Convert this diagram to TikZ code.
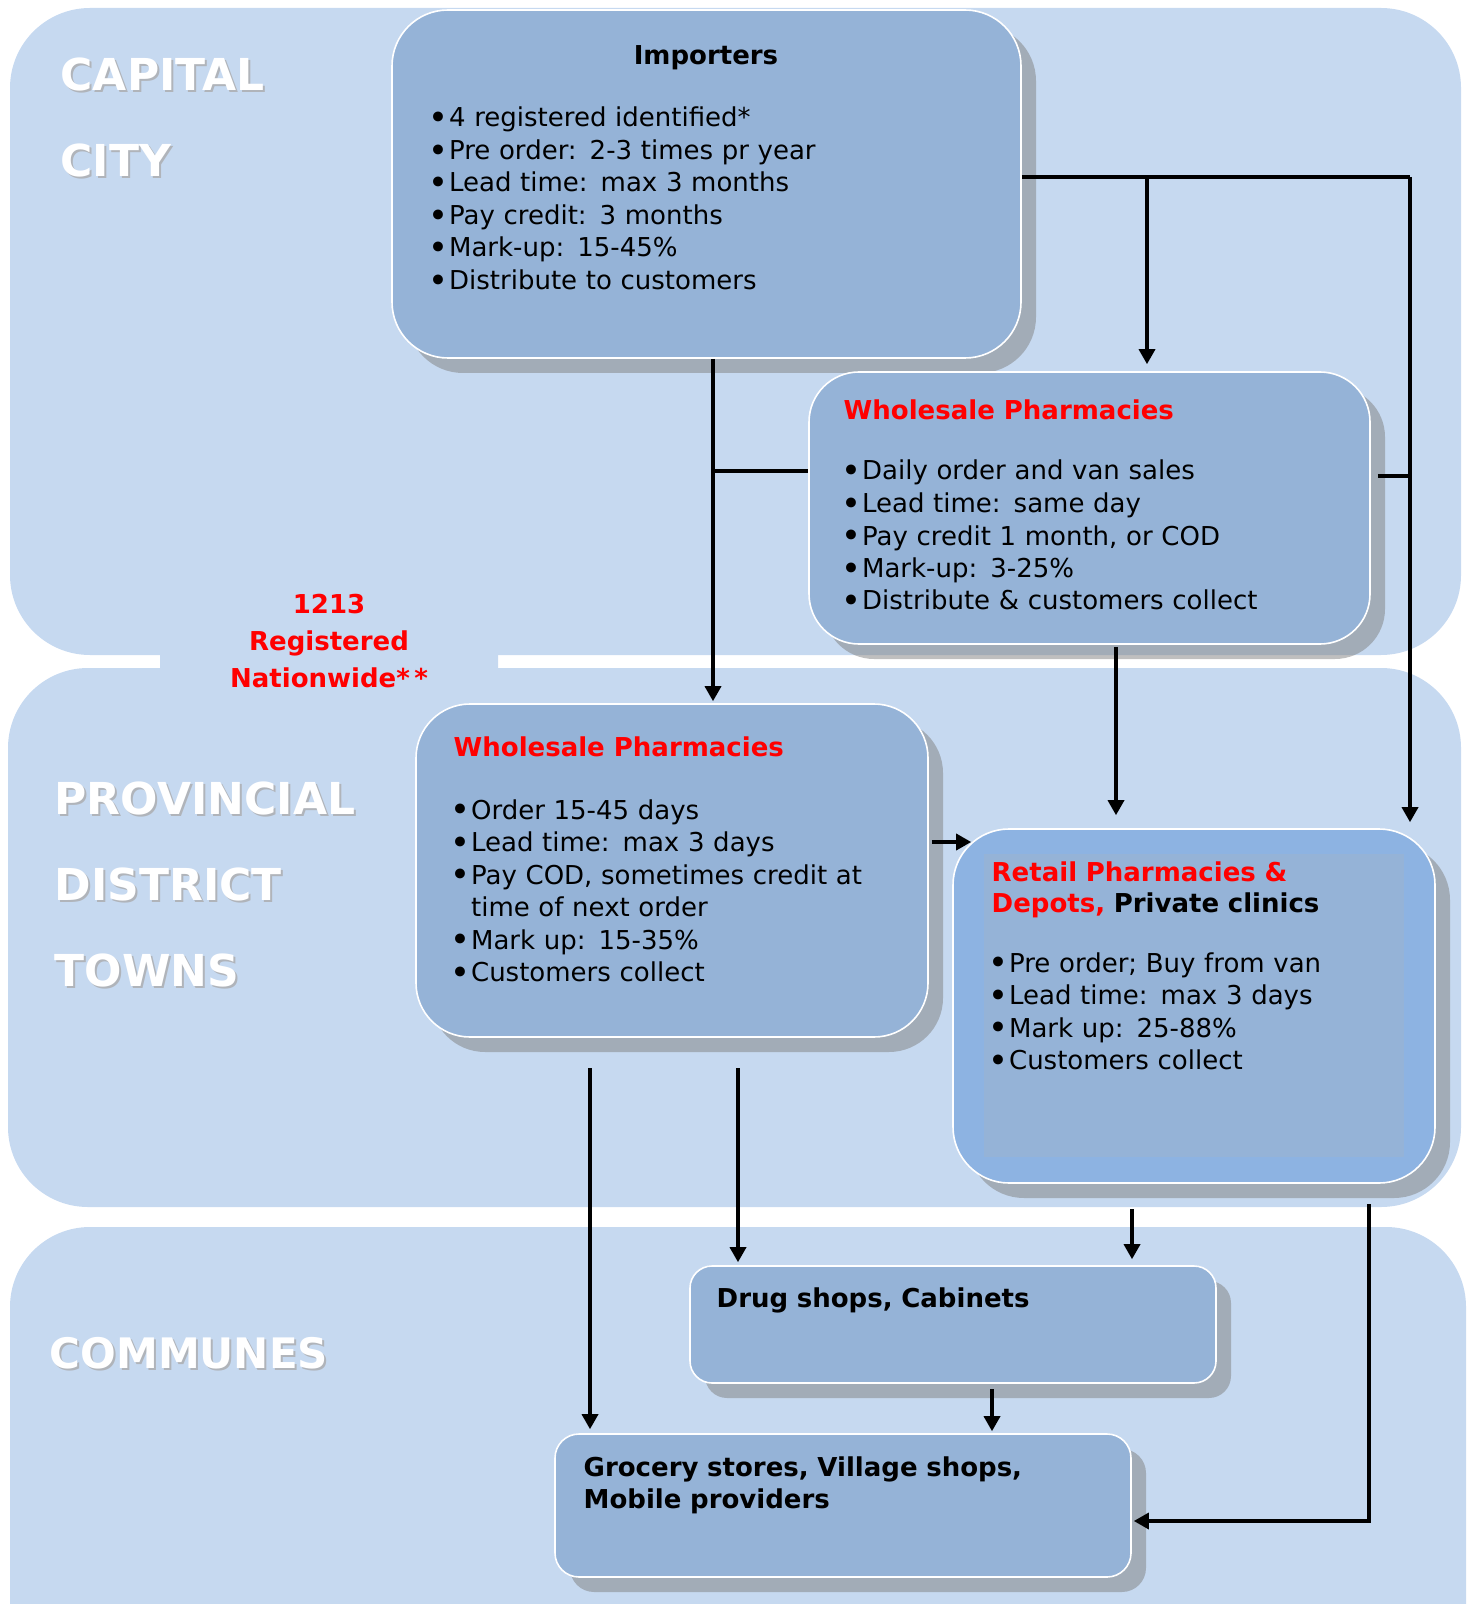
\documentclass[tikz,border=0pt]{standalone}
\usepackage{fontspec}
\setmainfont{DejaVu Sans}
\usepackage{tikz}
\usetikzlibrary{arrows.meta,calc,shadows}
\definecolor{band}{HTML}{C6D9F0}
\definecolor{boxblue}{HTML}{95B3D7}
\definecolor{retailblue}{HTML}{8DB3E2}
\definecolor{zonegray}{HTML}{B0B4BA}
\newcommand{\itm}[1]{\makebox[8.7pt][l]{\hspace*{-1.5pt}\raisebox{-1.4pt}{\scalebox{1.3}{\textbullet}}}#1}

\begin{document}
\begin{tikzpicture}[x=0.5pt,y=-0.5pt,>={Triangle[length=7.5pt,width=8pt]},line width=1.7pt,
    box/.style={draw=white,line width=0.8pt,fill=boxblue,rounded corners=#1,
        drop shadow={shadow xshift=7.5pt,shadow yshift=-7.5pt,fill=gray,opacity=.5}},
    txt/.style={anchor=base west,text width=#1,align=left,inner sep=0pt,font=\fontsize{13}{16.25}\selectfont},
    head/.style={anchor=base west,inner sep=0pt,text=red,font=\fontsize{13}{16.25}\selectfont\bfseries},
    zone/.style={anchor=base west,text width=200pt,align=left,inner sep=0pt,text=white,
        font=\fontsize{22}{43}\selectfont\bfseries},
    zoneshadow/.style={zone,text=zonegray}]
    \useasboundingbox (0,0) rectangle (1471,1604);
    \clip (0,0) rectangle (1471,1604);
    % bands
    \fill[band,rounded corners=40pt] (10,8) rectangle (1461,655);
    \fill[band,rounded corners=40pt] (8,668) rectangle (1461,1207);
    \fill[band,rounded corners=40pt] (10,1227) rectangle (1466,1690);

    \node[zoneshadow] (capsh) at (61,93) {CAPITAL\\CITY};
    \node[zone] (cap) at (59,91) {CAPITAL\\CITY};
    \node[zoneshadow] (provsh) at (55,816) {PROVINCIAL\\DISTRICT\\TOWNS};
    \node[zone] (prov) at (53,814) {PROVINCIAL\\DISTRICT\\TOWNS};
    \node[zoneshadow,font=\fontsize{21}{43}\selectfont\bfseries] (comsh) at (50,1370) {COMMUNES};
    \node[zone,font=\fontsize{21}{43}\selectfont\bfseries] (com) at (48,1368) {COMMUNES};

    \node[fill=band,rounded corners=8pt,minimum width=169pt,inner ysep=6pt,text width=160pt,align=center,
        text=red,font=\fontsize{13}{18.3}\selectfont\bfseries] (reg) at (329,641) {1213\\Registered\\Nationwide*\,*};

    % boxes
    \node[box=28pt,minimum width=314.5pt,minimum height=174pt] (imp) at (706.5,184) {};
    \node[box=25pt,minimum width=280.5pt,minimum height=136pt] (whcap) at (1089.5,508) {};
    \node[box=27pt,minimum width=256pt,minimum height=166.5pt] (whprov) at (672,870.5) {};
    \node[box=28pt,fill=retailblue,minimum width=241pt,minimum height=177pt] (retail) at (1194,1006) {};
    \fill[boxblue] ($(retail.north west)+(32,26)$) rectangle ($(retail.south east)+(-32,-27)$);
    \node[box=11pt,minimum width=263pt,minimum height=58.5pt] (drug) at (953,1324.5) {};
    \node[box=12pt,minimum width=288pt,minimum height=71.5pt] (gro) at (843,1505.5) {};

    % texts
    \node[anchor=base,inner sep=0pt,font=\fontsize{13}{16.25}\selectfont\bfseries] (imptitle) at (706,65) {Importers};
    \node[txt=290pt] (implist) at (430,127) {\itm{4 registered identified*}\\\itm{Pre order: 2-3 times pr year}\\
        \itm{Lead time: max 3 months}\\\itm{Pay credit: 3 months}\\\itm{Mark-up: 15-45\%}\\\itm{Distribute to customers}};
    \node[head] (whcaptitle) at (842,420) {Wholesale Pharmacies};
    \node[txt=260pt] (whcaplist) at (843,480) {\itm{Daily order and van sales}\\\itm{Lead time: same day}\\
        \itm{Pay credit 1 month, or COD}\\\itm{Mark-up: 3-25\%}\\\itm{Distribute \& customers collect}};
    \node[head] (whprovtitle) at (452,756) {Wholesale Pharmacies};
    \node[txt=230pt] (whprovlist) at (452,819) {\itm{Order 15-45 days}\\\itm{Lead time: max 3 days}\\
        \itm{Pay COD, sometimes credit at}\\\hspace*{8.7pt}time of next order\\\itm{Mark up: 15-35\%}\\\itm{Customers collect}};
    \node[txt=210pt,font=\fontsize{13}{15.9}\selectfont\bfseries] (retailtitle) at (990,881)
        {\textcolor{red}{Retail Pharmacies \&}\\\textcolor{red}{Depots,} Private clinics};
    \node[txt=210pt] (retaillist) at (990,972) {\itm{Pre order; Buy from van}\\\itm{Lead time: max 3 days}\\
        \itm{Mark up: 25-88\%}\\\itm{Customers collect}};
    \node[txt=240pt,font=\fontsize{13}{16}\selectfont\bfseries] (drugtext) at (715,1307) {Drug shops, Cabinets};
    \node[txt=270pt,font=\fontsize{13}{16}\selectfont\bfseries] (grotext) at (582,1476) {Grocery stores, Village shops,\\Mobile providers};

    % connectors
    \coordinate (ja) at (1147,177);
    \coordinate (jb) at (1410,177);
    \coordinate (jc) at (1410,476);
    \coordinate (jd) at (713,471);
    \coordinate (cw) at (1116,0);
    \coordinate (ch) at (0,842);
    \coordinate (cg) at (590,1068);
    \coordinate (cd) at (738,1068);
    \coordinate (cr) at (1132,1209);
    \coordinate (ce) at (1369,1204);
    \coordinate (cs) at (992,1389);
    \draw (imp.east |- ja) -- (jb);
    \draw[->] (ja) -- ($(whcap.north -| ja)+(0,-7)$);
    \draw[->] (jb) -- ($(retail.north -| jb)+(0,-6)$);
    \draw ($(jc -| whcap.east)+(7,0)$) -- (jc);
    \draw[->] (imp.south -| jd) -- ($(whprov.north -| jd)+(0,-2)$);
    \draw (jd) -- (jd -| whcap.west);
    \draw[->] ($(whcap.south -| cw)+(0,2)$) -- ($(retail.north -| cw)+(0,-13)$);
    \draw[->] ($(whprov.east |- ch)+(3,0)$) -- ($(retail.west |- ch)+(19,0)$);
    \draw[->] (cg) -- ($(gro.north -| cg)+(0,-4)$);
    \draw[->] (cd) -- ($(drug.north -| cd)+(0,-3)$);
    \draw[->] (cr) -- ($(drug.north -| cr)+(0,-6)$);
    \draw[->] (ce) |- ($(gro.east)+(2,15.5)$);
    \draw[->] (cs) -- ($(gro.north -| cs)+(0,-2)$);
\end{tikzpicture}
\end{document}
